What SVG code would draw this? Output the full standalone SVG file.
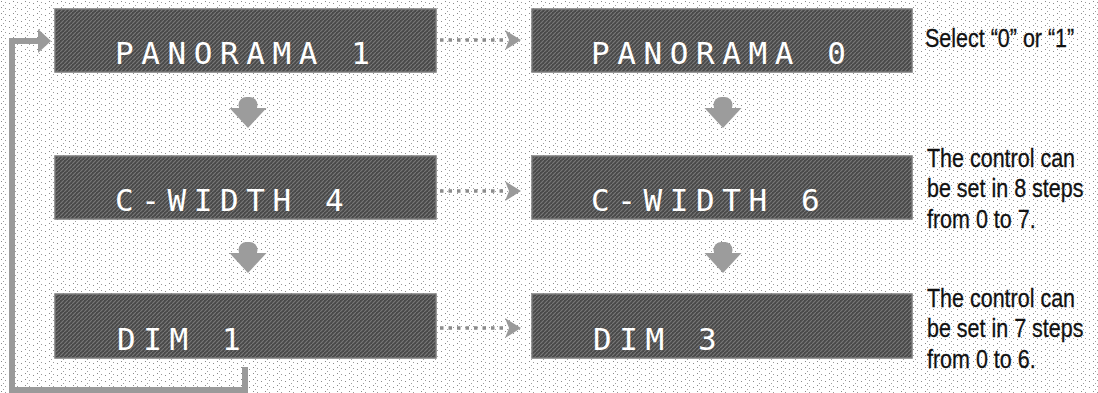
<svg xmlns="http://www.w3.org/2000/svg" xmlns:xlink="http://www.w3.org/1999/xlink" width="1098" height="393" viewBox="0 0 1098 393">
  <style>
    .box { fill: url(#boxTex); stroke: #7a7a7a; stroke-width: 1.5; }
    .lcd { font-family: "DejaVu Sans Mono", "Liberation Mono", monospace; font-size: 31px; fill: #ffffff; letter-spacing: 7.6px; }
    .note { font-family: "Liberation Sans", Arial, sans-serif; font-size: 25px; fill: #111111; stroke: #111111; stroke-width: 0.3; }
    .dots { fill: none; stroke: #8c8c8c; stroke-width: 3.5; stroke-dasharray: 3.5 5; }
    .loop { fill: none; stroke: #9a9a9a; stroke-width: 6; }
    .down { fill: #9c9c9c; }
  </style>
  <defs>
    <pattern id="bgTex" width="12" height="6" patternUnits="userSpaceOnUse">
      <rect width="12" height="6" fill="#ffffff"/>
      <rect x="1" y="1" width="1" height="1" fill="#8a8a8a"/>
      <rect x="5" y="2" width="1" height="1" fill="#9a9a9a"/>
      <rect x="9" y="3" width="1" height="1" fill="#8a8a8a"/>
      <rect x="3" y="5" width="1" height="1" fill="#a0a0a0"/>
    </pattern>
    <pattern id="boxTex" width="4" height="4" patternUnits="userSpaceOnUse">
      <rect width="4" height="4" fill="#494949"/>
      <path d="M0 4 L4 0" stroke="#777777" stroke-width="1.2"/>
    </pattern>
    <marker id="dotHead" viewBox="0 0 16 20" refX="2" refY="10" markerWidth="16" markerHeight="20" markerUnits="userSpaceOnUse" orient="auto">
      <path d="M0 0 L16 10 L0 20 L4 10 Z" fill="#9a9a9a"/>
    </marker>
    <marker id="loopHead" viewBox="0 0 14 24" refX="2" refY="12" markerWidth="14" markerHeight="24" markerUnits="userSpaceOnUse" orient="auto">
      <path d="M0 0 L13 12 L0 24 Z" fill="#9a9a9a"/>
    </marker>
    <g id="downArrow">
      <rect x="-9.5" y="0" width="19" height="16" rx="8" class="down"/>
      <path d="M-18.5 11 L18.5 11 L0 31 Z" class="down"/>
    </g>
  </defs>

  <rect width="1098" height="393" fill="url(#bgTex)"/>

  <g id="connectors">
    <path class="loop" d="M245 367 V390 H12 V41 H40" marker-end="url(#loopHead)"/>
    <path class="dots" d="M440 40 H507" marker-end="url(#dotHead)"/>
    <path class="dots" d="M440 191 H507" marker-end="url(#dotHead)"/>
    <path class="dots" d="M440 328 H507" marker-end="url(#dotHead)"/>
    <use xlink:href="#downArrow" x="248" y="97"/>
    <use xlink:href="#downArrow" x="723" y="97"/>
    <use xlink:href="#downArrow" x="248" y="242"/>
    <use xlink:href="#downArrow" x="723" y="242"/>
  </g>

  <g id="node-panorama-1">
    <rect class="box" x="55" y="9" width="381" height="63"/>
    <text class="lcd" x="115" y="64">PANORAMA 1</text>
  </g>
  <g id="node-panorama-0">
    <rect class="box" x="532" y="9" width="380" height="63"/>
    <text class="lcd" x="591" y="64">PANORAMA 0</text>
  </g>
  <g id="node-cwidth-4">
    <rect class="box" x="55" y="156" width="381" height="63"/>
    <text class="lcd" x="115" y="211">C-WIDTH 4</text>
  </g>
  <g id="node-cwidth-6">
    <rect class="box" x="532" y="156" width="380" height="63"/>
    <text class="lcd" x="591" y="211">C-WIDTH 6</text>
  </g>
  <g id="node-dim-1">
    <rect class="box" x="55" y="294" width="381" height="64"/>
    <text class="lcd" x="117" y="350">DIM 1</text>
  </g>
  <g id="node-dim-3">
    <rect class="box" x="532" y="294" width="380" height="64"/>
    <text class="lcd" x="593" y="350">DIM 3</text>
  </g>

  <g id="note-panorama" transform="translate(925 0) scale(0.86 1)">
    <text class="note" x="0" y="47">Select “0” or “1”</text>
  </g>
  <g id="note-cwidth" transform="translate(927 0) scale(0.86 1)">
    <text class="note" x="0" y="167">The control can</text>
    <text class="note" x="0" y="197">be set in 8 steps</text>
    <text class="note" x="0" y="228">from 0 to 7.</text>
  </g>
  <g id="note-dim" transform="translate(927 0) scale(0.86 1)">
    <text class="note" x="0" y="307">The control can</text>
    <text class="note" x="0" y="337">be set in 7 steps</text>
    <text class="note" x="0" y="368">from 0 to 6.</text>
  </g>
</svg>
